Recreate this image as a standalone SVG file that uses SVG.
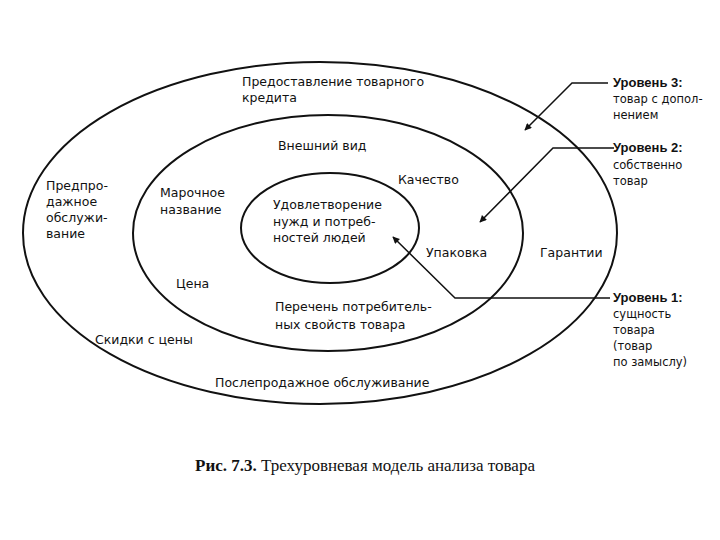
<svg xmlns="http://www.w3.org/2000/svg" width="720" height="540" viewBox="0 0 720 540">
<defs>
<style>
.ring{fill:none;stroke:#111;stroke-width:2}
.t{font-family:"DejaVu Sans","Liberation Sans",Arial,sans-serif;font-size:12.5px;fill:#111}
.r{font-size:11.5px}
.b{font-family:"Liberation Sans",Arial,sans-serif;font-weight:bold;font-size:13px}
.cap{font-family:"Liberation Serif","Times New Roman",serif;font-size:17px;fill:#111}
.ln{fill:none;stroke:#111;stroke-width:1.5}
</style>
<marker id="ah" viewBox="0 0 10 10" refX="9" refY="5" markerWidth="8" markerHeight="7" orient="auto-start-reverse" markerUnits="userSpaceOnUse">
<path d="M0,0 L10,5 L0,10 z" fill="#111"/>
</marker>
</defs>
<rect width="720" height="540" fill="#fff"/>
<g id="level3">
<ellipse class="ring" cx="320" cy="233" rx="297" ry="171"/>
<text class="t" x="242" y="86">Предоставление товарного</text>
<text class="t" x="242" y="102">кредита</text>
<text class="t" x="46" y="190">Предпро-</text>
<text class="t" x="46" y="206">дажное</text>
<text class="t" x="46" y="222">обслужи-</text>
<text class="t" x="46" y="238">вание</text>
<text class="t" x="540" y="257">Гарантии</text>
<text class="t" x="95" y="344">Скидки с цены</text>
<text class="t" x="215" y="387">Послепродажное обслуживание</text>
</g>
<g id="level2">
<ellipse class="ring" cx="328" cy="233" rx="195" ry="118"/>
<text class="t" x="278" y="150">Внешний вид</text>
<text class="t" x="398" y="184">Качество</text>
<text class="t" x="160" y="197">Марочное</text>
<text class="t" x="160" y="214">название</text>
<text class="t" x="426" y="257">Упаковка</text>
<text class="t" x="176" y="288">Цена</text>
<text class="t" x="275" y="311">Перечень потребитель-</text>
<text class="t" x="275" y="329">ных свойств товара</text>
</g>
<g id="level1">
<ellipse class="ring" cx="330" cy="228" rx="89" ry="55"/>
<text class="t" x="273" y="209">Удовлетворение</text>
<text class="t" x="273" y="226">нужд и потреб-</text>
<text class="t" x="273" y="242">ностей людей</text>
</g>
<g id="connectors">
<polyline class="ln" points="608,83 572,83 525,130" marker-end="url(#ah)"/>
<polyline class="ln" points="614,148 553,148 480,222" marker-end="url(#ah)"/>
<polyline class="ln" points="610,298 455,298 393,237" marker-end="url(#ah)"/>
</g>
<g id="labels">
<text class="t b" x="613" y="87">Уровень 3:</text>
<text class="t r" x="613" y="103">товар с допол-</text>
<text class="t r" x="613" y="119">нением</text>
<text class="t b" x="613" y="152">Уровень 2:</text>
<text class="t r" x="613" y="169">собственно</text>
<text class="t r" x="613" y="185">товар</text>
<text class="t b" x="613" y="302">Уровень 1:</text>
<text class="t r" x="613" y="318">сущность</text>
<text class="t r" x="613" y="334">товара</text>
<text class="t r" x="613" y="350">(товар</text>
<text class="t r" x="613" y="366">по замыслу)</text>
</g>
<text class="cap" x="195" y="471"><tspan font-weight="bold">Рис. 7.3.</tspan> Трехуровневая модель анализа товара</text>
</svg>
